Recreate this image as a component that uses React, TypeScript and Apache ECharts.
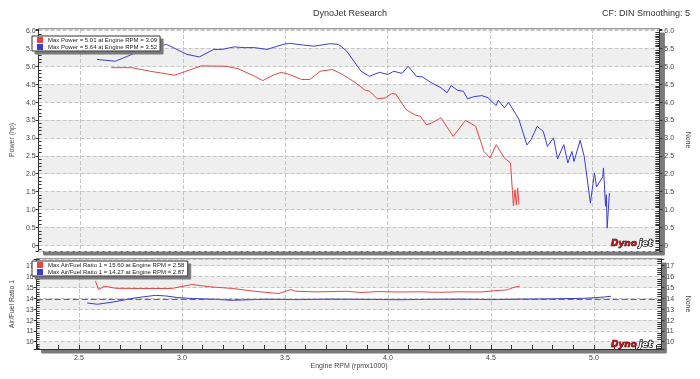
import React, { useEffect, useRef } from 'react';
import * as echarts from 'echarts';

// ---- data ----
const redPowerRpm = [2.65, 2.75, 2.84, 2.96, 3.09, 3.21, 3.27, 3.35, 3.39, 3.44, 3.48, 3.52, 3.58, 3.62, 3.67, 3.73, 3.78, 3.84, 3.89, 3.91, 3.95, 3.99, 4.02, 4.04, 4.09, 4.13, 4.16, 4.19, 4.22, 4.26, 4.32, 4.38, 4.43, 4.47, 4.50, 4.53, 4.57, 4.60, 4.614, 4.622, 4.628, 4.635, 4.641];
const redPower = [4.96, 4.96, 4.86, 4.75, 5.01, 5.00, 4.93, 4.72, 4.60, 4.75, 4.83, 4.77, 4.63, 4.63, 4.86, 4.91, 4.77, 4.55, 4.33, 4.31, 4.09, 4.12, 4.24, 4.22, 3.79, 3.65, 3.60, 3.36, 3.43, 3.56, 3.04, 3.49, 3.32, 2.62, 2.44, 2.81, 2.44, 2.30, 1.10, 1.55, 1.12, 1.60, 1.13];

const bluePowerRpm = [2.58, 2.67, 2.81, 2.92, 3.02, 3.08, 3.15, 3.19, 3.25, 3.30, 3.35, 3.41, 3.49, 3.52, 3.59, 3.64, 3.72, 3.76, 3.80, 3.84, 3.87, 3.91, 3.96, 4.00, 4.03, 4.07, 4.10, 4.14, 4.17, 4.21, 4.26, 4.29, 4.31, 4.34, 4.37, 4.39, 4.42, 4.46, 4.49, 4.53, 4.54, 4.57, 4.59, 4.64, 4.68, 4.70, 4.73, 4.76, 4.78, 4.81, 4.83, 4.86, 4.88, 4.90, 4.91, 4.94, 4.96, 4.99, 5.01, 5.02, 5.05, 5.054, 5.064, 5.068, 5.072, 5.083];
const bluePower = [5.19, 5.14, 5.47, 5.61, 5.33, 5.26, 5.47, 5.47, 5.54, 5.52, 5.52, 5.47, 5.61, 5.64, 5.59, 5.56, 5.63, 5.61, 5.42, 5.10, 4.86, 4.72, 4.83, 4.77, 4.86, 4.80, 5.00, 4.72, 4.70, 4.55, 4.40, 4.26, 4.46, 4.33, 4.30, 4.09, 4.15, 4.18, 4.12, 3.90, 4.05, 3.84, 3.99, 3.53, 2.80, 2.95, 3.32, 3.18, 2.76, 3.00, 2.41, 2.81, 2.30, 2.62, 2.34, 2.93, 2.48, 1.18, 2.02, 1.63, 1.91, 2.16, 1.09, 1.41, 0.48, 1.46];

const redAfrRpm = [2.58, 2.595, 2.625, 2.68, 2.80, 2.95, 3.05, 3.07, 3.14, 3.25, 3.35, 3.47, 3.53, 3.55, 3.66, 3.80, 3.87, 3.95, 4.05, 4.15, 4.25, 4.35, 4.45, 4.52, 4.58, 4.61, 4.64];
const redAfr = [15.60, 14.81, 15.11, 14.92, 14.90, 14.90, 15.27, 15.22, 15.05, 14.90, 14.65, 14.44, 14.81, 14.65, 14.59, 14.65, 14.53, 14.62, 14.58, 14.60, 14.55, 14.60, 14.58, 14.70, 14.78, 15.00, 15.12];

const blueAfrRpm = [2.54, 2.59, 2.67, 2.77, 2.87, 2.92, 2.98, 3.05, 3.16, 3.24, 3.40, 3.56, 3.72, 3.88, 4.05, 4.20, 4.35, 4.50, 4.65, 4.80, 4.95, 5.00, 5.05, 5.083];
const blueAfr = [13.57, 13.45, 13.67, 14.03, 14.27, 14.22, 14.07, 13.98, 13.91, 13.82, 13.91, 13.88, 13.92, 13.90, 13.87, 13.90, 13.92, 13.88, 13.92, 13.95, 14.00, 14.05, 14.12, 14.19];

const afrTarget = 13.9;

const rpmRange = [2.295, 5.327];
const powerRange = [-0.16, 6.04];
const afrRange = [9.33, 17.62];

const titleText = 'DynoJet Research';
const cornerText = 'CF: DIN Smoothing: 5';

// ---- helpers ----
const zip = (xs: number[], ys: number[]) => xs.map((x, i) => [x, ys[i]]);
const peak = (xs: number[], ys: number[]) => {
  let k = 0;
  ys.forEach((v, i) => { if (v > ys[k]) k = i; });
  return { v: ys[k], r: xs[k] };
};
const isMult = (v: number, step: number) => Math.abs(v / step - Math.round(v / step)) < 1e-6;

const RED = '#e04848';
const BLUE = '#3c3cd0';
const FONT = 'Liberation Sans';
const TXT = '#444';

export default function App() {
  const ref = useRef<HTMLDivElement>(null);
  useEffect(() => {
    if (!ref.current) return;
    const chart = echarts.init(ref.current, null, { renderer: 'svg' });

    const pR = peak(redPowerRpm, redPower);
    const pB = peak(bluePowerRpm, bluePower);
    const aR = peak(redAfrRpm, redAfr);
    const aB = peak(blueAfrRpm, blueAfr);
    const nRP = `Max Power = ${pR.v.toFixed(2)} at Engine RPM = ${pR.r.toFixed(2)}`;
    const nBP = `Max Power = ${pB.v.toFixed(2)} at Engine RPM = ${pB.r.toFixed(2)}`;
    const nRA = `Max Air/Fuel Ratio 1 = ${aR.v.toFixed(2)} at Engine RPM = ${aR.r.toFixed(2)}`;
    const nBA = `Max Air/Fuel Ratio 1 = ${aB.v.toFixed(2)} at Engine RPM = ${aB.r.toFixed(2)}`;

    const lbl = { fontSize: 7, color: TXT, fontFamily: FONT };
    const powerFmt = (v: number) => (isMult(v, 0.5) ? (Math.abs(v) < 1e-9 ? '0' : v.toFixed(1)) : '');
    const afrFmt = (v: number) => (isMult(v, 1) ? String(Math.round(v)) : '');
    const rpmFmt = (v: number) => (isMult(v, 0.5) ? v.toFixed(1) : '');
    const dashed = { type: 'dashed' as const, color: '#c4c4c4', width: 1 };
    const axisCol = '#333';

    const yAxes = (grid: number, range: number[], split: number, fmt: any, name: string, areaCols: string[], minorSplit: number) => [
      {
        gridIndex: grid, type: 'value', position: 'left', min: range[0], max: range[1], splitNumber: split,
        axisLine: { show: true, lineStyle: { color: axisCol } },
        axisTick: { show: true, inside: false, length: 3, lineStyle: { color: axisCol } },
        axisLabel: { ...lbl, formatter: fmt, margin: 3, showMinLabel: true, showMaxLabel: true },
        splitLine: { show: true, lineStyle: dashed },
        splitArea: { show: true, areaStyle: { color: areaCols } },
        name, nameLocation: 'middle', nameGap: 19, nameRotate: 90,
        nameTextStyle: { fontSize: 7, color: TXT, fontFamily: FONT },
      },
      {
        gridIndex: grid, type: 'value', position: 'left', min: range[0], max: range[1], splitNumber: split,
        axisLine: { show: false }, axisTick: { show: false, inside: true }, axisLabel: { show: false },
        splitLine: { show: false },
        minorTick: { show: true, splitNumber: 5, length: 3, lineStyle: { color: axisCol } },
      },
      {
        gridIndex: grid, type: 'value', position: 'right', min: range[0], max: range[1], splitNumber: split,
        axisLine: { show: true, lineStyle: { color: axisCol } },
        axisTick: { show: true, inside: false, length: 3, lineStyle: { color: axisCol } },
        axisLabel: { ...lbl, formatter: fmt, margin: 5 },
        splitLine: { show: false },
        name: 'None', nameLocation: 'middle', nameGap: 22, nameRotate: -90,
        nameTextStyle: { fontSize: 7, color: TXT, fontFamily: FONT },
      },
      {
        gridIndex: grid, type: 'value', position: 'right', min: range[0], max: range[1], splitNumber: split,
        axisLine: { show: false }, axisTick: { show: false, inside: true }, axisLabel: { show: false },
        splitLine: { show: false },
        minorTick: { show: true, splitNumber: minorSplit, length: 4, lineStyle: { color: axisCol } },
      },
    ];

    const legendBase = {
      orient: 'vertical', left: 32, itemWidth: 6, itemHeight: 6, itemGap: 1,
      padding: [1, 3, 1, 5], backgroundColor: '#fff', borderColor: '#333', borderWidth: 1,
      shadowColor: '#7a7a7a', shadowOffsetX: 3, shadowOffsetY: 3, shadowBlur: 0.1,
      icon: 'rect', selectedMode: false,
      textStyle: { fontSize: 6, color: '#222', fontFamily: FONT },
    };

    const gridBase = {
      left: 29, right: 36, show: true, backgroundColor: '#fff', borderColor: '#333', borderWidth: 1,
      shadowColor: '#7a7a7a', shadowOffsetX: 5, shadowOffsetY: 4, shadowBlur: 0.1, containLabel: false,
    };

    const logoStyle = { fontSize: 9, fontWeight: 'bold', fontStyle: 'italic', fontFamily: 'DejaVu Sans', textVerticalAlign: 'top' };
    const logo = (y: number) => ({
      type: 'group', x: 611, y, z: 100,
      children: [
        { type: 'text', x: 0, y: 0, z: 100, style: { ...logoStyle, text: 'Dyno', fill: '#b3121a', stroke: '#2a0000', lineWidth: 0.6 } },
        { type: 'text', x: 28, y: 0, z: 100, style: { ...logoStyle, text: 'jet', fill: '#ffffff', stroke: '#111111', lineWidth: 1.5 } },
      ],
    });

    const option: any = {
      animation: false,
      title: [
        { text: titleText, left: 'center', top: 3, textStyle: { fontSize: 9, fontWeight: 'normal', color: '#333', fontFamily: FONT } },
        { text: cornerText, right: 5, top: 3, textStyle: { fontSize: 9, fontWeight: 'normal', color: '#333', fontFamily: FONT } },
      ],
      legend: [
        { ...legendBase, top: 36, data: [nRP, nBP] },
        { ...legendBase, top: 261, data: [nRA, nBA] },
      ],
      grid: [
        { ...gridBase, top: 29, height: 222 },
        { ...gridBase, top: 259, height: 90 },
      ],
      xAxis: [
        {
          gridIndex: 0, type: 'value', min: rpmRange[0], max: rpmRange[1], splitNumber: 6,
          axisLine: { show: false }, axisTick: { show: false }, axisLabel: { show: false },
          splitLine: { show: true, lineStyle: dashed },
        },
        {
          gridIndex: 1, type: 'value', min: rpmRange[0], max: rpmRange[1], splitNumber: 6,
          axisLine: { show: true, lineStyle: { color: axisCol } },
          axisTick: { show: true, inside: true, length: 4, lineStyle: { color: axisCol } },
          minorTick: { show: true, splitNumber: 5, length: 4, lineStyle: { color: axisCol } },
          axisLabel: { ...lbl, formatter: rpmFmt, margin: 5 },
          splitLine: { show: true, lineStyle: dashed },
          name: 'Engine RPM (rpmx1000)', nameLocation: 'middle', nameGap: 12,
          nameTextStyle: { fontSize: 7, color: TXT, fontFamily: FONT },
        },
      ],
      yAxis: [
        ...yAxes(0, powerRange, 12, powerFmt, 'Power (hp)', ['#ffffff', '#efefef'], 10),
        ...yAxes(1, afrRange, 8, afrFmt, 'Air/Fuel Ratio 1', ['#efefef', '#ffffff'], 5),
      ],
      series: [
        { name: nRP, type: 'line', xAxisIndex: 0, yAxisIndex: 0, data: zip(redPowerRpm, redPower), showSymbol: false, color: RED, lineStyle: { width: 1, color: RED } },
        { name: nBP, type: 'line', xAxisIndex: 0, yAxisIndex: 0, data: zip(bluePowerRpm, bluePower), showSymbol: false, color: BLUE, lineStyle: { width: 1, color: BLUE } },
        { name: nRA, type: 'line', xAxisIndex: 1, yAxisIndex: 4, data: zip(redAfrRpm, redAfr), showSymbol: false, color: RED, lineStyle: { width: 1, color: RED } },
        {
          name: nBA, type: 'line', xAxisIndex: 1, yAxisIndex: 4, data: zip(blueAfrRpm, blueAfr), showSymbol: false, color: BLUE, lineStyle: { width: 1, color: BLUE },
          markLine: { silent: true, symbol: 'none', label: { show: false }, lineStyle: { color: '#b04848', type: [6, 3], width: 1 }, data: [{ yAxis: afrTarget }] },
        },
      ],
      graphic: { elements: [logo(238), logo(339)] },
    };

    chart.setOption(option);
    return () => chart.dispose();
  }, []);
  return <div ref={ref} style={{ position: 'fixed', left: 0, top: 0, width: 700, height: 379 }} />;
}
